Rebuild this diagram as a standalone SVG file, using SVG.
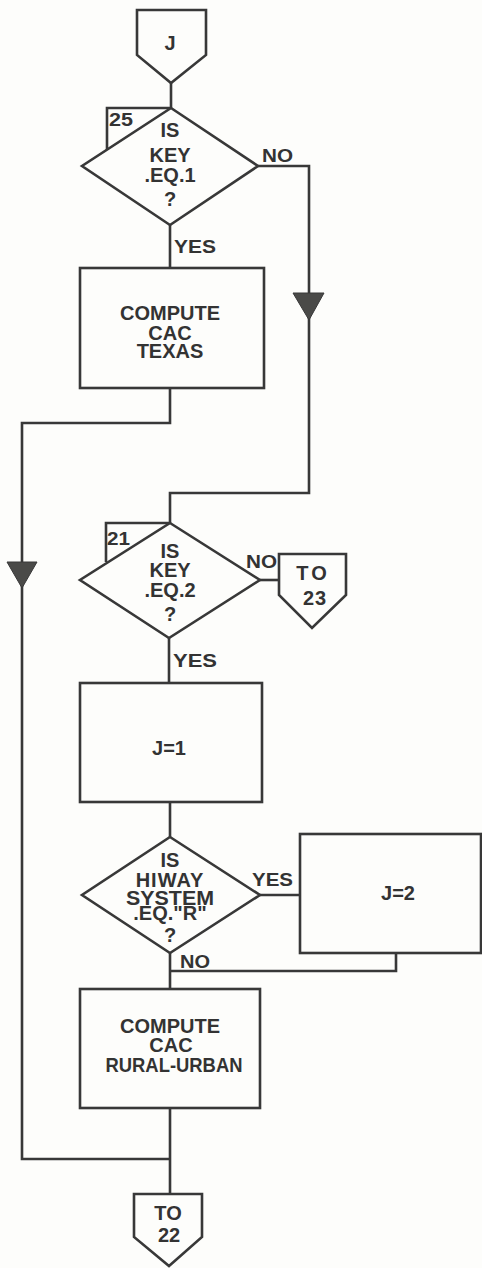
<svg xmlns="http://www.w3.org/2000/svg" width="482" height="1268" viewBox="0 0 482 1268">
<defs>
<style>
.s{fill:none;stroke:#383838;stroke-width:2.6;stroke-linejoin:miter}
.n{fill:#fdfdfb;stroke:#383838;stroke-width:2.6}
.t{font-family:"Liberation Sans",Arial,sans-serif;font-weight:bold;fill:#333;text-anchor:middle;font-size:20px}
.l{font-family:"Liberation Sans",Arial,sans-serif;font-weight:bold;fill:#333;font-size:19px}
.a{fill:#4a4a48;stroke:#383838;stroke-width:1}
</style>
</defs>
<rect x="0" y="0" width="482" height="1268" fill="#fdfdfb"/>
<g id="connectors">
<path class="s" d="M171,83 L171,108"/>
<path class="s" d="M258,166 L309,166 L309,493 L170,493 L170,523"/>
<polygon class="a" points="293,293 324,293 309,320"/>
<path class="s" d="M170,225 L170,268"/>
<path class="s" d="M170,388 L170,423 L22,423 L22,1159 L170,1159"/>
<polygon class="a" points="7,562 37,562 22,588"/>
<path class="s" d="M260,580 L279,580"/>
<path class="s" d="M169,638 L169,683"/>
<path class="s" d="M170,802 L170,837"/>
<path class="s" d="M260,895 L300,895"/>
<path class="s" d="M170,953 L170,989"/>
<path class="s" d="M396,953 L396,971 L170,971"/>
<path class="s" d="M170,1108 L170,1194"/>
<text class="l" x="262" y="162" textLength="31" lengthAdjust="spacingAndGlyphs">NO</text>
<text class="l" x="174" y="253" textLength="42" lengthAdjust="spacingAndGlyphs">YES</text>
<text class="l" x="246" y="568" textLength="31" lengthAdjust="spacingAndGlyphs">NO</text>
<text class="l" x="173" y="667" textLength="44" lengthAdjust="spacingAndGlyphs">YES</text>
<text class="l" x="252" y="886" textLength="41" lengthAdjust="spacingAndGlyphs">YES</text>
<text class="l" x="180" y="968" textLength="30" lengthAdjust="spacingAndGlyphs">NO</text>
</g>
<g id="startJ">
<polygon class="n" points="137,10 206,10 206,55 171,83 137,55"/>
<text class="t" x="170" y="50">J</text>
</g>
<g id="dec1">
<polygon class="n" points="171,108 258,166 170,225 82,166"/>
<path class="s" d="M107,150 L107,108 L171,108"/>
<text class="l" x="109" y="126" textLength="24" lengthAdjust="spacingAndGlyphs">25</text>
<text class="t"><tspan x="170" y="137">IS</tspan><tspan x="170" y="162">KEY</tspan><tspan x="170" y="182">.EQ.1</tspan><tspan x="170" y="206">?</tspan></text>
</g>
<g id="box1">
<rect class="n" x="80" y="268" width="184" height="120"/>
<text class="t"><tspan x="170" y="320" textLength="100" lengthAdjust="spacingAndGlyphs">COMPUTE</tspan><tspan x="170" y="340">CAC</tspan><tspan x="170" y="358">TEXAS</tspan></text>
</g>
<g id="dec2">
<polygon class="n" points="170,523 260,580 169,638 80,580"/>
<path class="s" d="M106,562 L106,523 L170,523"/>
<text class="l" x="107" y="545" font-size="16" textLength="23" lengthAdjust="spacingAndGlyphs">21</text>
<text class="t"><tspan x="170" y="558">IS</tspan><tspan x="170" y="577">KEY</tspan><tspan x="170" y="597">.EQ.2</tspan><tspan x="170" y="621">?</tspan></text>
</g>
<g id="to23">
<polygon class="n" points="279,554 346,554 346,595 312,628 279,595"/>
<text class="t"><tspan x="313" y="580" letter-spacing="3">TO</tspan><tspan x="315" y="605" letter-spacing="1">23</tspan></text>
</g>
<g id="boxJ1">
<rect class="n" x="80" y="683" width="182" height="119"/>
<text class="t" x="169" y="755" font-size="18">J=1</text>
</g>
<g id="dec3">
<polygon class="n" points="170,837 260,895 170,953 82,895"/>
<text class="t"><tspan x="170" y="867">IS</tspan><tspan x="170" y="887" letter-spacing="1">HIWAY</tspan><tspan x="170" y="905" textLength="88" lengthAdjust="spacingAndGlyphs">SYSTEM</tspan><tspan x="170" y="920">.EQ."R"</tspan><tspan x="170" y="942">?</tspan></text>
</g>
<g id="boxJ2">
<rect class="n" x="300" y="834" width="181" height="119"/>
<text class="t" x="398" y="900" font-size="18">J=2</text>
</g>
<g id="box3">
<rect class="n" x="80" y="989" width="180" height="119"/>
<text class="t"><tspan x="170" y="1033" textLength="100" lengthAdjust="spacingAndGlyphs">COMPUTE</tspan><tspan x="171" y="1052">CAC</tspan><tspan x="174" y="1072" textLength="137" lengthAdjust="spacingAndGlyphs">RURAL-URBAN</tspan></text>
</g>
<g id="to22">
<polygon class="n" points="134,1194 202,1194 202,1237 169,1266 134,1237"/>
<text class="t"><tspan x="168" y="1220">TO</tspan><tspan x="169" y="1242">22</tspan></text>
</g>
</svg>
